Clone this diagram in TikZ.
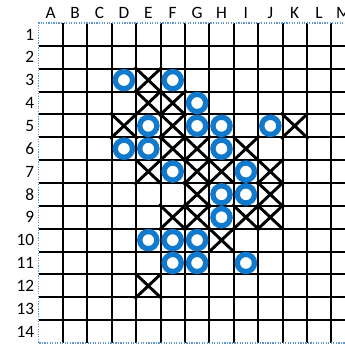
\documentclass[tikz,border=0pt]{standalone}
\usepackage{fontspec}
\setmainfont{Carlito}
\usetikzlibrary{shapes.misc}
\definecolor{ringblue}{RGB}{18,122,204}
\definecolor{edgeblue}{RGB}{95,150,205}
\begin{document}
\begin{tikzpicture}[x=18.3pt,y=-17.14pt,
        gridline/.style={black,line width=1.5pt},
        boardedge/.style={edgeblue,densely dotted,line width=0.9pt},
        collabel/.style={font=\fontsize{13}{13}\selectfont,anchor=base,inner sep=0pt},
        rowlabel/.style={font=\fontsize{13}{13}\selectfont,anchor=east,inner sep=0pt},
        xmark/.style={cross out,draw=black,line width=2.2pt,minimum width=18.3pt,minimum height=17.14pt,inner sep=0pt},
        omark/.style={circle,draw=ringblue,fill=white,line width=4pt,minimum size=12.9pt,inner sep=0pt}]
    \useasboundingbox (-1.578,-1.007) rectangle (12.561,14.05);
    % grid
    \foreach \c in {1,...,12}
        \draw[gridline] (\c,0) -- (\c,14);
    \foreach \r in {1,...,13}
        \draw[gridline] (0,\r) -- (12.6,\r);
    \draw[boardedge] (12.6,0) -- (0,0) -- (0,14) -- (12.6,14);
    % labels
    \foreach \l [count=\c] in {A,B,C,D,E,F,G,H,I,J,K,L,M}
        \node[collabel] (col\l) at (\c-0.5,-0.2) {\l};
    \foreach \r in {1,...,14}
        \node[rowlabel] (row\r) at (-0.17,\r-0.5) {\r};
    % crosses
    \foreach \c/\r in {5/3,5/4,6/4,4/5,6/5,11/5,6/6,7/6,9/6,5/7,7/7,8/7,10/7,
                       7/8,10/8,6/9,7/9,9/9,10/9,8/10,5/12}
        \node[xmark] (x\c-\r) at (\c-0.5,\r-0.5) {};
    % rings
    \foreach \c/\r in {4/3,6/3,7/4,5/5,7/5,8/5,10/5,4/6,5/6,8/6,6/7,9/7,
                       8/8,9/8,8/9,5/10,6/10,7/10,6/11,7/11,9/11}
        \node[omark] (o\c-\r) at (\c-0.5,\r-0.5) {};
\end{tikzpicture}
\end{document}
